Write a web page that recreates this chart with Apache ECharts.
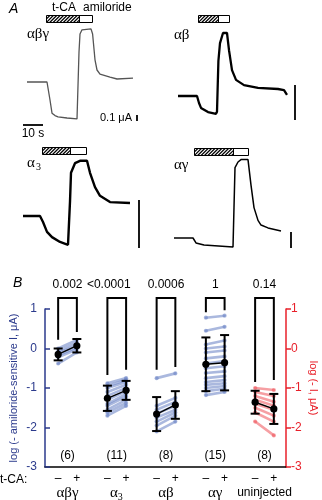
<!DOCTYPE html>
<html><head><meta charset="utf-8">
<script src="https://cdn.jsdelivr.net/npm/echarts@6/dist/echarts.min.js"></script>
<style>html,body{margin:0;padding:0;background:#fff}#c{width:322px;height:500px}</style>
</head><body><div id="c"></div>
<script>
// ---------------- Panel A: current traces (time s, current µA relative to baseline)
const abgT = [0, 10, 10.5, 11.5, 12.5, 14, 15.5, 20, 25, 25.5, 26, 26.5, 27.5, 32, 32.8, 34, 35, 36.5, 41.5, 45, 53];
const abgI = [0, 0, -0.02, -0.3, -0.52, -0.56, -0.58, -0.6, -0.615, -0.6, 0.5, 0.8, 0.87, 0.885, 0.8, 0.37, 0.2, 0.13, 0.08, 0.05, 0.065];
const abT = [0, 9.5, 10.5, 11.5, 15, 19, 19.5, 20.2, 21, 22.5, 24.5, 25.5, 27, 29, 33, 40, 50, 53, 54.5];
const abI = [0, 0, -0.02, -0.034, -0.046, -0.051, -0.045, 0.1, 0.151, 0.18, 0.18, 0.131, 0.074, 0.046, 0.031, 0.023, 0.02, 0.017, 0.003];
const a3T = [0, 8.5, 10, 12, 14.5, 18.5, 22.5, 23, 23.5, 24, 26, 28.5, 32, 33.5, 36, 38.5, 43.5, 53.5];
const a3I = [0, 0, -0.0125, -0.033, -0.044, -0.054, -0.06, -0.06, 0.03, 0.09, 0.11, 0.115, 0.115, 0.09, 0.06, 0.042, 0.029, 0.027];
const agT = [0, 9.5, 11, 15, 29.5, 30, 30.5, 32, 33.5, 37, 38.5, 40, 42, 43.5, 47, 53.5];
const agI = [0, 0, -0.031, -0.044, -0.056, -0.05, 0.44, 0.475, 0.49, 0.49, 0.33, 0.19, 0.11, 0.081, 0.063, 0.044];
// stimulus timing: [t-CA on, t-CA off / amiloride on, amiloride off] (s)
const abgStim = [9.5, 26, 32.5];
const abStim = [10, 20, 25.5];
const a3Stim = [9.5, 23.5, 31.5];
const agStim = [10, 29.5, 37];
const scaleUA = 0.1;   // µA
const scaleSec = 10;   // s

// ---------------- Panel B data
const groupNames = ['αβγ', 'α', 'αβ', 'αγ', 'uninjected'];
const groupSubs = ['', '3', '', '', ''];
const nLabels = ['(6)', '(11)', '(8)', '(15)', '(8)'];
const pLabels = ['0.002', '<0.0001', '0.0006', '1', '0.14'];
const meanMinus = [-0.15, -1.26, -1.66, -0.40, -1.36];
const meanPlus = [0.07, -1.06, -1.43, -0.36, -1.53];
const errMinus = [0.15, 0.32, 0.43, 0.68, 0.29];
const errPlus = [0.17, 0.24, 0.35, 0.70, 0.38];
const legMinus = [0.22, -0.67, -0.54, 0.92, -0.85];
const legPlus = [0.42, -0.54, -0.47, 0.97, -0.80];
const bracketTop = 1.28;
const abgMinus = [0.0, -0.07, -0.12, -0.17, -0.22, -0.38];
const abgPlus = [0.22, 0.15, 0.08, 0.03, -0.02, -0.1];
const a3Minus = [-0.88, -0.95, -1.0, -1.1, -1.2, -1.3, -1.4, -1.45, -1.55, -1.62, -1.7];
const a3Plus = [-0.75, -0.8, -0.85, -0.92, -1.0, -1.08, -1.15, -1.22, -1.3, -1.38, -1.45];
const abMinus = [-0.75, -1.45, -1.55, -1.65, -1.75, -1.85, -1.95, -2.1];
const abPlus = [-0.63, -1.25, -1.35, -1.45, -1.55, -1.62, -1.7, -1.85];
const agMinus = [0.78, 0.45, 0.1, 0.0, -0.1, -0.25, -0.38, -0.5, -0.62, -0.75, -0.85, -0.92, -1.0, -1.08, -1.18];
const agPlus = [0.83, 0.55, 0.2, 0.05, -0.05, -0.2, -0.32, -0.45, -0.58, -0.7, -0.8, -0.88, -0.95, -1.02, -1.1];
const uninjMinus = [-1.0, -1.1, -1.2, -1.3, -1.4, -1.5, -1.62, -1.85];
const uninjPlus = [-1.05, -1.2, -1.35, -1.45, -1.55, -1.7, -1.85, -2.2];
const yTicksMin = -3, yTicksMax = 1, yTickStep = 1;

// ---------------- layout
const SANS = '"Liberation Sans", Arial, sans-serif';
const SERIF = '"Liberation Serif", "Times New Roman", serif';
const BLUE = '#2b3a8c', RED = '#e8202a';
const traces = [
  {t: abgT, I: abgI, stim: abgStim, left: 27, base: 82, pxS: 2, pxUA: 60, tMax: 54, iMin: -0.7, iMax: 0.95, barTop: 15, lw: 1.3, color: '#555', sbX: 137, sbBottom: 121, lbl: true},
  {t: abT, I: abI, stim: abStim, left: 178, base: 96, pxS: 2, pxUA: 350, tMax: 55, iMin: -0.06, iMax: 0.2, barTop: 15, lw: 2.3, color: '#000', sbX: 295, sbBottom: 120},
  {t: a3T, I: a3I, stim: a3Stim, left: 23, base: 216, pxS: 2, pxUA: 480, tMax: 54, iMin: -0.07, iMax: 0.13, barTop: 147, lw: 2.4, color: '#000', sbX: 139, sbBottom: 248},
  {t: agT, I: agI, stim: agStim, left: 174, base: 238, pxS: 2, pxUA: 160, tMax: 54, iMin: -0.07, iMax: 0.52, barTop: 148, lw: 1.5, color: '#000', sbX: 291, sbBottom: 248}
];
const OFF = 0.19;

const grids = [], xAxes = [], yAxes = [], series = [];
traces.forEach((L, k) => {
  grids.push({left: L.left, top: L.base - L.iMax * L.pxUA, width: L.tMax * L.pxS, height: (L.iMax - L.iMin) * L.pxUA, outerBoundsMode: 'none'});
  xAxes.push({type: 'value', gridIndex: k, min: 0, max: L.tMax, show: false});
  yAxes.push({type: 'value', gridIndex: k, min: L.iMin, max: L.iMax, show: false});
  series.push({type: 'line', xAxisIndex: k, yAxisIndex: k, showSymbol: false, symbol: 'none', silent: true,
    lineStyle: {color: L.color, width: L.lw}, data: L.t.map((t, i) => [t, L.I[i]])});
  series.push({type: 'custom', xAxisIndex: k, yAxisIndex: k, clip: false, silent: true,
    data: [[L.stim[0], L.stim[1], L.stim[2]]],
    renderItem: function (params, api) {
      const x0 = Math.round(api.coord([api.value(0), 0])[0]) + 0.5;
      const x1 = Math.round(api.coord([api.value(1), 0])[0]) + 0.5;
      const x2 = Math.round(api.coord([api.value(2), 0])[0]) + 0.5;
      const h = 7, y0 = L.barTop + 0.5, y1 = y0 + h;
      const ch = [];
      ch.push({type: 'rect', shape: {x: x0, y: y0, width: x2 - x0, height: h}, style: {fill: '#fff', stroke: '#000', lineWidth: 1}});
      for (let c = x0 - h; c < x1; c += 3.4) {
        const umin = Math.max(0, x0 - c), umax = Math.min(h, x1 - c);
        if (umax > umin) ch.push({type: 'line', shape: {x1: c + umin, y1: y1 - umin, x2: c + umax, y2: y1 - umax}, style: {stroke: '#000', lineWidth: 1.2}});
      }
      ch.push({type: 'line', shape: {x1: x1, y1: y0, x2: x1, y2: y1}, style: {stroke: '#000', lineWidth: 1}});
      // vertical current scale bar
      const len = api.size([0, scaleUA])[1];
      ch.push({type: 'line', shape: {x1: L.sbX, y1: L.sbBottom, x2: L.sbX, y2: L.sbBottom - len}, style: {stroke: '#000', lineWidth: 1.8}});
      if (L.lbl) {
        const w = api.size([scaleSec, 0])[0];
        ch.push({type: 'line', shape: {x1: 23, y1: 125, x2: 23 + w, y2: 125}, style: {stroke: '#000', lineWidth: 1.8}});
        ch.push({type: 'text', x: 23 + w / 2, y: 134, style: {text: scaleSec + ' s', font: '12px ' + SANS, fill: '#000', align: 'center', verticalAlign: 'middle', textAlign: 'center', textVerticalAlign: 'middle'}});
        ch.push({type: 'text', x: L.sbX - 5, y: 118, style: {text: scaleUA + ' μA', font: '11px ' + SANS, fill: '#000', align: 'right', verticalAlign: 'middle', textAlign: 'right', textVerticalAlign: 'middle'}});
      }
      return {type: 'group', children: ch};
    }});
});

// Panel B grid
const GB = traces.length;
grids.push({left: 45, top: 309, width: 241, height: 158, outerBoundsMode: 'none'});
xAxes.push({type: 'value', gridIndex: GB, min: -0.457, max: 4.437, axisLine: {show: true, onZero: false, lineStyle: {color: '#000', width: 1.5}},
  axisTick: {show: false}, axisLabel: {show: false}, splitLine: {show: false}});
yAxes.push({type: 'value', gridIndex: GB, position: 'left', min: yTicksMin, max: yTicksMax, interval: yTickStep,
  axisLine: {show: true, onZero: false, lineStyle: {color: BLUE, width: 1.5}},
  axisTick: {show: true, inside: true, length: 5, lineStyle: {color: BLUE, width: 1.5}},
  axisLabel: {color: BLUE, fontSize: 12, fontFamily: SANS, margin: 8},
  splitLine: {show: false},
  name: 'log (- amiloride-sensitive I, μA)', nameLocation: 'middle', nameGap: 26, nameMoveOverlap: false,
  nameTextStyle: {color: BLUE, fontSize: 11, fontFamily: SANS}});
yAxes.push({type: 'value', gridIndex: GB, position: 'right', min: yTicksMin, max: yTicksMax, interval: yTickStep,
  axisLine: {show: true, onZero: false, lineStyle: {color: RED, width: 1.5}},
  axisTick: {show: true, inside: false, length: 5, lineStyle: {color: RED, width: 1.5}},
  axisLabel: {color: RED, fontSize: 12, fontFamily: SANS, margin: 5},
  splitLine: {show: false},
  name: 'log (- I, μA)', nameLocation: 'middle', nameGap: 22, nameRotate: -90, nameMoveOverlap: false,
  nameTextStyle: {color: RED, fontSize: 11, fontFamily: SANS}});
const XB = xAxes.length - 1, YL = yAxes.length - 2, YR = yAxes.length - 1;

function indivRender(color) {
  return function (params, api) {
    const g = api.value(0);
    const p0 = api.coord([g - OFF, api.value(1)]);
    const p1 = api.coord([g + OFF, api.value(2)]);
    return {type: 'group', children: [
      {type: 'line', shape: {x1: p0[0], y1: p0[1], x2: p1[0], y2: p1[1]}, style: {stroke: color, lineWidth: 2.6, lineCap: 'round'}},
      {type: 'circle', shape: {cx: p0[0], cy: p0[1], r: 2.1}, style: {fill: color}},
      {type: 'circle', shape: {cx: p1[0], cy: p1[1], r: 2.1}, style: {fill: color}}
    ]};
  };
}
const blueData = [];
[[abgMinus, abgPlus], [a3Minus, a3Plus], [abMinus, abPlus], [agMinus, agPlus]].forEach((pair, g) => {
  pair[0].forEach((v, i) => blueData.push([g, v, pair[1][i]]));
});
const redData = uninjMinus.map((v, i) => [4, v, uninjPlus[i]]);
series.push({type: 'custom', xAxisIndex: XB, yAxisIndex: YL, clip: false, silent: true, data: blueData, renderItem: indivRender('rgba(100,125,195,0.55)')});
series.push({type: 'custom', xAxisIndex: XB, yAxisIndex: YR, clip: false, silent: true, data: redData, renderItem: indivRender('rgba(238,80,88,0.55)')});

series.push({type: 'custom', xAxisIndex: XB, yAxisIndex: YL, clip: false, silent: true,
  data: meanMinus.map((m, g) => [g, m, meanPlus[g], errMinus[g], errPlus[g]]),
  renderItem: function (params, api) {
    const g = api.value(0), m0 = api.value(1), m1 = api.value(2), s0 = api.value(3), s1 = api.value(4);
    const ch = [];
    [[g - OFF, m0, s0], [g + OFF, m1, s1]].forEach(([x, m, s]) => {
      const a = api.coord([x, m + s]), b = api.coord([x, m - s]);
      ch.push({type: 'line', shape: {x1: a[0], y1: a[1], x2: b[0], y2: b[1]}, style: {stroke: '#000', lineWidth: 2}});
      ch.push({type: 'line', shape: {x1: a[0] - 4.5, y1: a[1], x2: a[0] + 4.5, y2: a[1]}, style: {stroke: '#000', lineWidth: 2}});
      ch.push({type: 'line', shape: {x1: b[0] - 4.5, y1: b[1], x2: b[0] + 4.5, y2: b[1]}, style: {stroke: '#000', lineWidth: 2}});
    });
    const pa = api.coord([g - OFF, m0]), pb = api.coord([g + OFF, m1]);
    ch.push({type: 'line', shape: {x1: pa[0], y1: pa[1], x2: pb[0], y2: pb[1]}, style: {stroke: '#000', lineWidth: 1.4}});
    ch.push({type: 'circle', shape: {cx: pa[0], cy: pa[1], r: 3.6}, style: {fill: '#000'}});
    ch.push({type: 'circle', shape: {cx: pb[0], cy: pb[1], r: 3.6}, style: {fill: '#000'}});
    return {type: 'group', children: ch};
  }});

const pShift = [0, -8, 0, 0, 0];
function txt(x, y, s, font, align) {
  return {type: 'text', x: x, y: y, style: {text: s, font: font, fill: '#000', align: align || 'center', verticalAlign: 'middle', textAlign: align || 'center', textVerticalAlign: 'middle'}};
}
series.push({type: 'custom', xAxisIndex: XB, yAxisIndex: YL, clip: false, silent: true,
  data: legMinus.map((v, g) => [g, v, legPlus[g]]),
  renderItem: function (params, api) {
    const i = params.dataIndex, g = api.value(0);
    const la = api.coord([g - OFF, api.value(1)]), lb = api.coord([g + OFF, api.value(2)]);
    const top = api.coord([g, bracketTop]), base = api.coord([g, yTicksMin]);
    const ch = [];
    ch.push({type: 'polyline', shape: {points: [[la[0], la[1]], [la[0], top[1]], [lb[0], top[1]], [lb[0], lb[1]]]}, style: {stroke: '#000', lineWidth: 2, fill: null}});
    ch.push(txt(top[0] + pShift[i], top[1] - 13, pLabels[i], '12px ' + SANS));
    ch.push(txt(base[0], base[1] - 11, nLabels[i], '12px ' + SANS));
    ch.push(txt(la[0], base[1] + 12, '–', '12px ' + SANS));
    ch.push(txt(lb[0], base[1] + 12, '+', '12px ' + SANS));
    const isGreek = /[α-ω]/.test(groupNames[i]);
    const font = isGreek ? '15px ' + SERIF : '12px ' + SANS;
    if (groupSubs[i]) {
      ch.push(txt(base[0] + 1, base[1] + 26, groupNames[i], font, 'right'));
      ch.push(txt(base[0] + 1, base[1] + 30, groupSubs[i], '10px ' + SERIF, 'left'));
    } else {
      ch.push(txt(base[0], base[1] + 26, groupNames[i], font));
    }
    return {type: 'group', children: ch};
  }});

function gtext(x, y, s, font, color, align) {
  return {type: 'text', x: x, y: y, style: {text: s, font: font, fill: color || '#000', textAlign: align || 'left', textVerticalAlign: 'middle', align: align || 'left', verticalAlign: 'middle'}};
}
const graphic = [
  gtext(9, 9, 'A', 'italic 14px ' + SANS),
  gtext(52, 8, 't-CA', '12px ' + SANS),
  gtext(83, 8, 'amiloride', '12px ' + SANS),
  gtext(27, 34, 'αβγ', '15px ' + SERIF),
  gtext(174, 35, 'αβ', '15px ' + SERIF),
  gtext(27, 163, 'α', '15px ' + SERIF),
  gtext(36, 167, '3', '10px ' + SERIF),
  gtext(174, 165, 'αγ', '15px ' + SERIF),
  gtext(13, 283, 'B', 'italic 14px ' + SANS),
  gtext(0, 480, 't-CA:', '12px ' + SANS)
];

const chart = echarts.init(document.getElementById('c'), null, {renderer: 'canvas', width: 322, height: 500});
chart.setOption({
  animation: false,
  backgroundColor: '#fff',
  grid: grids, xAxis: xAxes, yAxis: yAxes, series: series, graphic: graphic
});
</script></body></html>
